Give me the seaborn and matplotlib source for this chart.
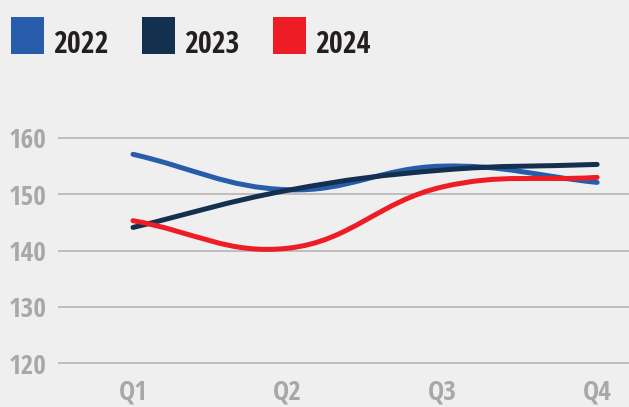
import numpy as np
import pandas as pd
import matplotlib
matplotlib.use('Agg')
import matplotlib.pyplot as plt
from matplotlib.path import Path
from matplotlib.patches import PathPatch, Rectangle
from matplotlib.font_manager import FontProperties, fontManager, weight_dict
from matplotlib.textpath import TextPath
import seaborn as sns

# values
quarters = ['Q1', 'Q2', 'Q3', 'Q4']
years = ['2022', '2023', '2024']
v2022 = [157.1, 150.8, 155.0, 152.1]
v2023 = [144.1, 150.7, 154.3, 155.3]
v2024 = [145.3, 140.4, 151.3, 153.0]
colors = ['#275dab', '#14304f', '#ee1c25']
yticks = [120, 130, 140, 150, 160]

df = pd.DataFrame({
    'q': list(range(len(quarters))) * 3,
    'value': v2022 + v2023 + v2024,
    'year': [y for y in years for _ in quarters],
})

sns.set_theme(style='white', rc={'axes.facecolor': '#efefef', 'figure.facecolor': '#efefef'})

BASES = ['Roboto', 'Noto Sans', 'DejaVu Sans', 'Liberation Sans', 'Open Sans', 'Lato', 'Inter']
WIDTHS = ['', ' Condensed', ' SemiCondensed', ' ExtraCondensed', ' Narrow', ' Cond']


def pick_font(target=1.82):
    # narrow bold face whose '2022' is about as wide as in the reference
    ok = {b + w for b in BASES for w in WIDTHS}
    best = None
    for f in fontManager.ttflist:
        if f.name not in ok or f.style != 'normal':
            continue
        w = f.weight if isinstance(f.weight, int) else weight_dict.get(f.weight, 400)
        if w < 600 or w > 800:
            continue
        try:
            ext = TextPath((0, 0), '2022', size=100, prop=FontProperties(fname=f.fname)).get_extents()
        except Exception:
            continue
        score = abs(ext.width / ext.height - target)
        if best is None or score < best[0]:
            best = (score, f.fname, ext.height / 100)
    if best is None:
        return None, 0.73
    return best[1], best[2]


fname, cap = pick_font()
fp = FontProperties(fname=fname) if fname else FontProperties(family='DejaVu Sans', weight='bold')
tick_size = 20 / cap * 0.72    # digits ~20 px tall
leg_size = 22 / cap * 0.72     # legend digits ~22 px tall


def smooth_path(xy, tension=0.4, sx=154.7, sy=5.63):
    # chart.js style cubic spline through the points, drawn as bezier segments
    px = xy[:, 0] * sx
    py = xy[:, 1] * sy
    n = len(px)
    cps = []
    for i in range(n):
        p, q = max(i - 1, 0), min(i + 1, n - 1)
        d01 = np.hypot(px[i] - px[p], py[i] - py[p])
        d12 = np.hypot(px[q] - px[i], py[q] - py[i])
        tot = d01 + d12
        fa = tension * d01 / tot if tot else 0
        fb = tension * d12 / tot if tot else 0
        dx, dy = px[q] - px[p], py[q] - py[p]
        cps.append(((px[i] - fa * dx, py[i] - fa * dy), (px[i] + fb * dx, py[i] + fb * dy)))
    verts = [(px[0], py[0])]
    codes = [Path.MOVETO]
    for i in range(1, n):
        verts += [cps[i - 1][1], cps[i][0], (px[i], py[i])]
        codes += [Path.CURVE4] * 3
    return Path(np.array(verts) / [sx, sy], codes)


fig = plt.figure(figsize=(6.29, 4.07), dpi=100)
W, H = 629, 407
ax = fig.add_axes([58 / W, 1 - (363 + 5.63) / H, 1 - 58 / W, (225 + 2 * 5.63) / H])

sns.lineplot(data=df, x='q', y='value', hue='year', palette=colors, legend=False, ax=ax)
for line, c in zip(list(ax.lines), colors):
    xy = line.get_xydata()
    line.remove()
    ax.add_patch(PathPatch(smooth_path(xy), facecolor='none', edgecolor=c, lw=3.6,
                           capstyle='round', joinstyle='round', clip_on=False))

ax.set_xlim(-0.485, 3.206)
ax.set_ylim(119, 161)
ax.set_yticks(yticks)
ax.set_xticks(range(len(quarters)))
ax.set_xticklabels(quarters)
ax.set_xlabel('')
ax.set_ylabel('')
ax.grid(axis='y', color='#b5b5b5', lw=1.2)
ax.grid(axis='x', visible=False)
ax.set_axisbelow(True)
for s in ax.spines.values():
    s.set_visible(False)
ax.tick_params(axis='both', length=0, labelcolor='#a8a8a8')
ax.tick_params(axis='y', pad=8)
ax.tick_params(axis='x', pad=7)
for lbl in ax.get_xticklabels() + ax.get_yticklabels():
    lbl.set_fontproperties(fp)
    lbl.set_fontsize(tick_size)

# legend: coloured squares with the year beside them
for i, (yr, c) in enumerate(zip(years, colors)):
    x0 = 11 + 131 * i
    fig.add_artist(Rectangle((x0 / W, 1 - 54 / H), 33 / W, 37 / H, transform=fig.transFigure,
                             facecolor=c, edgecolor='none'))
    fig.text((x0 + 42) / W, 1 - 53 / H, yr, fontproperties=fp, fontsize=leg_size,
             color='#231f20', ha='left', va='baseline')

fig.savefig('out.png', dpi=100, facecolor=fig.get_facecolor())
